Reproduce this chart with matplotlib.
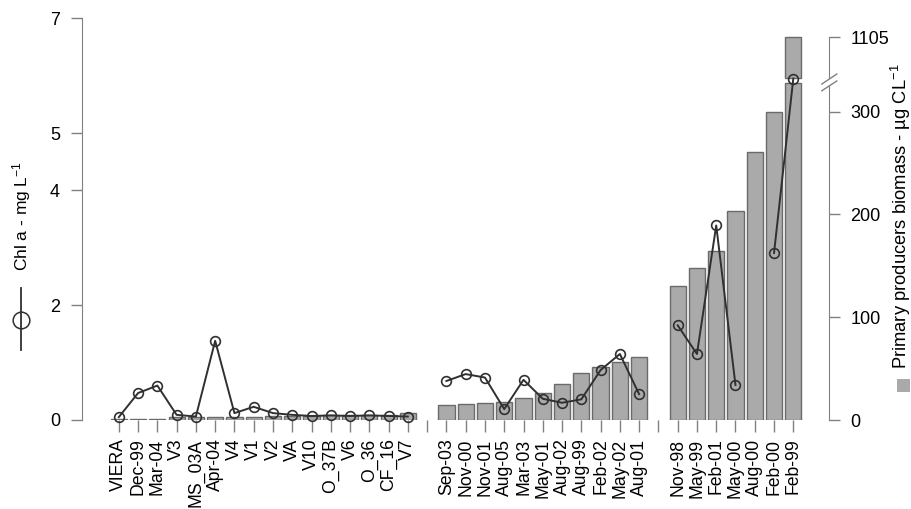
import numpy as np
import matplotlib.pyplot as plt
from matplotlib.lines import Line2D
from matplotlib.patches import Rectangle, Polygon
from matplotlib.transforms import blended_transform_factory

plt.rcParams['font.family'] = ['Liberation Sans', 'DejaVu Sans']
plt.rcParams['mathtext.fontset'] = 'custom'
plt.rcParams['mathtext.rm'] = 'Liberation Sans'
plt.rcParams['mathtext.default'] = 'regular'

# sites / sampling dates, '' marks the empty slot between the three groups
sites = ["VIERA", "Dec-99", "Mar-04", "V3", "MS_03A", "Apr-04", "V4", "V1",
         "V2", "VA", "V10", "O_37B", "V6", "O_36", "CF_16", "V7",
         "",
         "Sep-03", "Nov-00", "Nov-01", "Aug-05", "Mar-03", "May-01", "Aug-02",
         "Aug-99", "Feb-02", "May-02", "Aug-01",
         "",
         "Nov-98", "May-99", "Feb-01", "May-00", "Aug-00", "Feb-00", "Feb-99"]

# chlorophyll a (mg/L), left axis
chl = [0.05, 0.47, 0.60, 0.09, 0.06, 1.38, 0.12, 0.23,
       0.12, 0.09, 0.07, 0.08, 0.07, 0.08, 0.07, 0.06,
       np.nan,
       0.68, 0.80, 0.74, 0.19, 0.70, 0.37, 0.30,
       0.36, 0.87, 1.15, 0.45,
       np.nan,
       1.65, 1.15, 3.39, 0.61, np.nan, 2.91, 5.95]

# primary producers biomass (ug C/L), right axis
biomass = [0.5, 1, 1, 3, 2.5, 2.5, 3, 3,
           4, 4, 4, 4.5, 4.5, 5, 5, 6.5,
           np.nan,
           14.6, 15.3, 16.9, 17.9, 21.8, 26, 34.8,
           46.2, 51.7, 56, 61.5,
           np.nan,
           130.7, 148, 164.9, 203.3, 261.2, 299.8, 1105]

# right axis is cut between BRK_LO and BRK_HI, 1105 sits at TOP_POS
BRK_LO = 327.6
BRK_HI = 332.8
TOP_VAL = 1105
TOP_POS = 372.4


def squash(v):
    if v <= BRK_LO:
        return v
    return TOP_POS - (TOP_VAL - v)


bar_fc = '#aaaaaa'
bar_ec = '#6a6a6a'
axis_col = '#808080'
line_col = '#303030'

x = np.arange(len(sites))
bm = np.array(biomass, dtype=float)
ok = ~np.isnan(bm)

fig = plt.figure(figsize=(9.12, 5.09), dpi=100)
ax = fig.add_axes([82.3 / 912, 89 / 509, 747 / 912, 401.7 / 509])
ax2 = ax.twinx()

# bars (right axis), the broken one drawn in two pieces
lower = np.minimum(bm[ok], BRK_LO)
ax2.bar(x[ok], lower, width=0.84, color=bar_fc, edgecolor=bar_ec, linewidth=1)
big = ok & (bm > BRK_LO)
upper = np.array([squash(v) for v in bm[big]])
ax2.bar(x[big], upper - BRK_HI, bottom=BRK_HI, width=0.84,
        color=bar_fc, edgecolor=bar_ec, linewidth=1)

ax2.set_ylim(0, 390.9)
ax2.set_yticks([0, 100, 200, 300, TOP_POS])
ax2.set_yticklabels(['0', '100', '200', '300', '1105'])
for s in ['top', 'bottom', 'left']:
    ax2.spines[s].set_visible(False)
ax2.spines['right'].set_bounds(0, TOP_POS)
ax2.spines['right'].set_color(axis_col)
ax2.tick_params(axis='y', length=8, width=1, color=axis_col, pad=7,
                labelsize=13)

# slash marks for the axis break
tr = blended_transform_factory(ax2.transAxes, ax2.transData)
ax2.add_patch(Polygon([(0.990, 320.4), (1.010, 329.9), (1.010, 336.7), (0.990, 326.9)],
                      closed=True, facecolor='white', edgecolor='none',
                      transform=tr, clip_on=False, zorder=5))
ax2.plot([0.990, 1.010], [320.4, 329.9], color=axis_col, lw=1, transform=tr,
         clip_on=False, zorder=6)
ax2.plot([0.990, 1.010], [326.9, 336.7], color=axis_col, lw=1, transform=tr,
         clip_on=False, zorder=6)

# chl a line (left axis), on top of the bars
ax.set_zorder(ax2.get_zorder() + 1)
ax.patch.set_visible(False)
ax.plot(x, chl, color=line_col, lw=1.4, marker='o', ms=7, mfc='none',
        mec=line_col, mew=1.2, clip_on=False)

ax.set_xlim(-1.894, 36.868)
ax.set_ylim(0, 7)
ax.set_yticks([0, 2, 4, 5, 7])
ax.set_xticks(x)
ax.set_xticklabels(sites, rotation=90, fontsize=12.7)
for s in ['top', 'bottom', 'right']:
    ax.spines[s].set_visible(False)
ax.spines['left'].set_bounds(0, 7)
ax.spines['left'].set_color(axis_col)
ax.tick_params(axis='y', length=8, width=1, color=axis_col, pad=8, labelsize=13)
ax.tick_params(axis='x', length=8.4, width=1, color=axis_col, pad=5)

# axis titles with their own key symbols
fig.text(21.5 / 912, 1 - 216 / 509, "Chl a - mg L$^{-1}$", rotation=90,
         ha='center', va='center', fontsize=12.5)
fig.add_artist(Line2D([21.5 / 912] * 2, [1 - 288 / 509, 1 - 350 / 509],
                      color=line_col, lw=1.3))
fig.add_artist(Line2D([21.5 / 912], [1 - 320 / 509], marker='o', ms=12,
                      mfc='none', mec=line_col, mew=1.1, linestyle='none'))

fig.text(901 / 912, 1 - 216.5 / 509, "Primary producers biomass - µg CL$^{-1}$",
         rotation=90, ha='center', va='center', fontsize=13.2)
fig.add_artist(Rectangle((897 / 912, 1 - 392 / 509), 13 / 912, 13 / 509,
                         facecolor=bar_fc, edgecolor='none'))

fig.savefig('out.png', dpi=100)
